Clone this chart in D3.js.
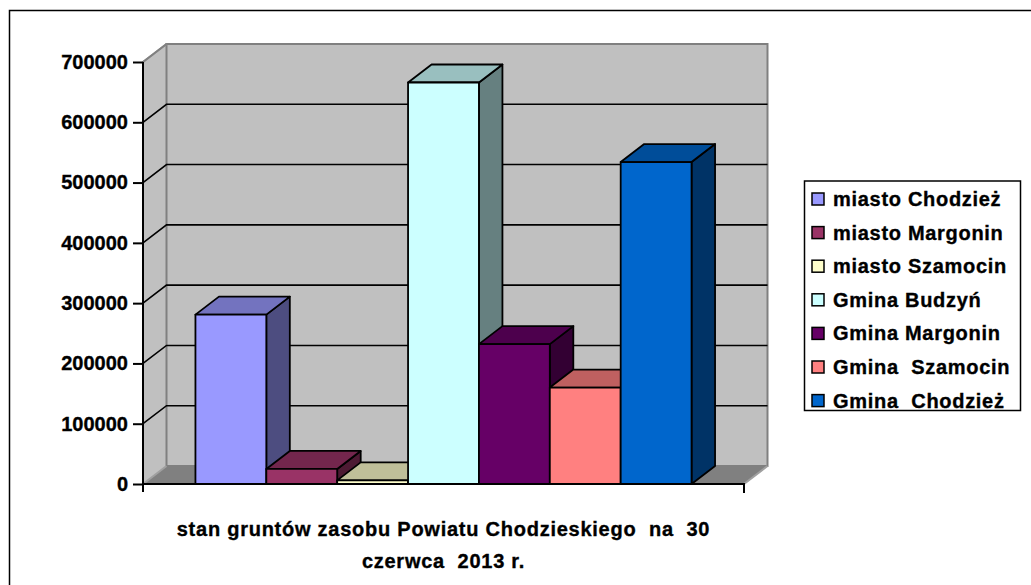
<!DOCTYPE html>
<html>
<head>
<meta charset="utf-8">
<script src="https://cdn.jsdelivr.net/npm/d3@7"></script>
<style>
  body { margin: 0; background: #fff; }
  text { font-family: "Liberation Sans", Arial, sans-serif; font-weight: bold; stroke: black; stroke-width: 0.35px; }
</style>
</head>
<body>
<svg id="chart" width="1031" height="585"></svg>
<script>
const series = ["miasto Chodzież", "miasto Margonin", "miasto Szamocin", "Gmina Budzyń",
  "Gmina Margonin", "Gmina  Szamocin", "Gmina  Chodzież"];
const values = [281000, 25000, 6000, 666000, 232000, 160000, 534000];
const colors = ["#9999FF", "#993366", "#FFFFCC", "#CCFFFF", "#660066", "#FF8080", "#0066CC"];
const yTicks = [0, 100000, 200000, 300000, 400000, 500000, 600000, 700000];
const titleLines = ["stan gruntów zasobu Powiatu Chodzieskiego  na  30", "czerwca  2013 r."];

const svg = d3.select("#chart");

// plot frame (front plane) and depth offset
const plot = { left: 143, right: 744, top: 62, bottom: 484 };
const dx = 23.5, dy = -18;

// outer border (only left/top edges fall in view)
svg.append("rect")
  .attr("x", 9.5).attr("y", 10.5)
  .attr("width", 1100).attr("height", 700)
  .attr("fill", "none")
  .attr("stroke", "black")
  .attr("stroke-width", 1.5);

const y = d3.scaleLinear().domain([0, 700000]).range([plot.bottom, plot.top]);
const x = d3.scaleBand().domain(series).range([plot.left, plot.right])
  .paddingInner(0).paddingOuter(0.74);

const pts = a => a.map(p => p.join(",")).join(" ");

// walls
const wallStroke = "#808080";
// left wall
svg.append("polygon")
  .attr("points", pts([[plot.left, plot.bottom], [plot.left, plot.top],
    [plot.left + dx, plot.top + dy], [plot.left + dx, plot.bottom + dy]]))
  .attr("fill", "#C0C0C0");
// back wall
svg.append("polygon")
  .attr("points", pts([[plot.left + dx, plot.top + dy], [plot.right + dx, plot.top + dy],
    [plot.right + dx, plot.bottom + dy], [plot.left + dx, plot.bottom + dy]]))
  .attr("fill", "#C0C0C0")
  .attr("stroke", wallStroke)
  .attr("stroke-width", 2);
// floor
svg.append("polygon")
  .attr("points", pts([[plot.left, plot.bottom], [plot.right, plot.bottom],
    [plot.right + dx, plot.bottom + dy], [plot.left + dx, plot.bottom + dy]]))
  .attr("fill", "#808080");
// wall edges
svg.append("path")
  .attr("d", `M${plot.left},${plot.top}L${plot.left + dx},${plot.top + dy}` +
    `M${plot.left},${plot.bottom}L${plot.left + dx},${plot.bottom + dy}` +
    `M${plot.right},${plot.bottom}L${plot.right + dx},${plot.bottom + dy}`)
  .attr("stroke", "#a0a0a0")
  .attr("stroke-width", 2)
  .attr("fill", "none");
svg.append("path")
  .attr("d", `M${plot.left},${plot.top}L${plot.left + dx},${plot.top + dy}`)
  .attr("stroke", wallStroke)
  .attr("stroke-width", 2);

// gridlines
const grid = yTicks.filter(v => v > 0 && v < 700000);
svg.append("g").selectAll("path")
  .data(grid)
  .enter()
  .append("path")
  .attr("d", v => `M${plot.left},${y(v)}L${plot.left + dx},${y(v) + dy}L${plot.right + dx},${y(v) + dy}`)
  .attr("fill", "none")
  .attr("stroke", "black")
  .attr("stroke-width", 1.6);

// bars
const shade = (c, k) => { const r = d3.rgb(c); return d3.rgb(r.r * k, r.g * k, r.b * k); };
const bars = svg.append("g").selectAll("g")
  .data(series.map((s, i) => ({ name: s, value: values[i], color: colors[i] })))
  .enter()
  .append("g")
  .attr("stroke", "black")
  .attr("stroke-width", 1.8)
  .attr("stroke-linejoin", "round");

bars.append("polygon") // side
  .attr("points", d => {
    const x1 = x(d.name) + x.bandwidth(), yt = y(d.value);
    return pts([[x1, yt], [x1 + dx, yt + dy], [x1 + dx, plot.bottom + dy], [x1, plot.bottom]]);
  })
  .attr("fill", d => shade(d.color, 0.5));
bars.append("polygon") // top
  .attr("points", d => {
    const x0 = x(d.name), x1 = x0 + x.bandwidth(), yt = y(d.value);
    return pts([[x0, yt], [x1, yt], [x1 + dx, yt + dy], [x0 + dx, yt + dy]]);
  })
  .attr("fill", d => shade(d.color, 0.75));
bars.append("rect") // front
  .attr("x", d => x(d.name))
  .attr("y", d => y(d.value))
  .attr("width", x.bandwidth())
  .attr("height", d => plot.bottom - y(d.value))
  .attr("fill", d => d.color);

// value axis
const yAxis = svg.append("g")
  .attr("transform", `translate(${plot.left},0)`)
  .call(d3.axisLeft(y).tickValues(yTicks).tickSize(10).tickPadding(5).tickFormat(d3.format("d")));
yAxis.select(".domain").attr("stroke-width", 2).attr("d", `M0,${plot.top}V${plot.bottom + 8}`);
yAxis.selectAll(".tick line").attr("stroke-width", 2);
yAxis.selectAll("text").attr("font-size", "20px").attr("fill", "black")
  .style("font-family", "Liberation Sans, Arial, sans-serif").style("font-weight", "bold");

// category axis
svg.append("path")
  .attr("d", `M${plot.left},${plot.bottom}H${plot.right}V${plot.bottom + 9}`)
  .attr("fill", "none")
  .attr("stroke", "black")
  .attr("stroke-width", 2);

// category title
svg.append("g").selectAll("text")
  .data(titleLines)
  .enter()
  .append("text")
  .attr("x", (plot.left + plot.right) / 2)
  .attr("y", (d, i) => 536 + i * 32)
  .attr("text-anchor", "middle")
  .attr("font-size", "20px")
  .attr("letter-spacing", "0.75px")
  .style("white-space", "pre")
  .text(d => d);

// legend
const legend = svg.append("g");
legend.append("rect")
  .attr("x", 804.5).attr("y", 181)
  .attr("width", 216).attr("height", 229.5)
  .attr("fill", "white")
  .attr("stroke", "black")
  .attr("stroke-width", 1.5);
const items = legend.selectAll("g.item")
  .data(series)
  .enter()
  .append("g")
  .attr("class", "item")
  .attr("transform", (d, i) => `translate(812,${199 + i * 33.6})`);
items.append("rect")
  .attr("x", 0).attr("y", -6)
  .attr("width", 12).attr("height", 12)
  .attr("fill", (d, i) => colors[i])
  .attr("stroke", "black")
  .attr("stroke-width", 1.5);
items.append("text")
  .attr("x", 21)
  .attr("y", 7)
  .attr("font-size", "20px")
  .attr("letter-spacing", "0.7px")
  .style("white-space", "pre")
  .text(d => d);
</script>
</body>
</html>
